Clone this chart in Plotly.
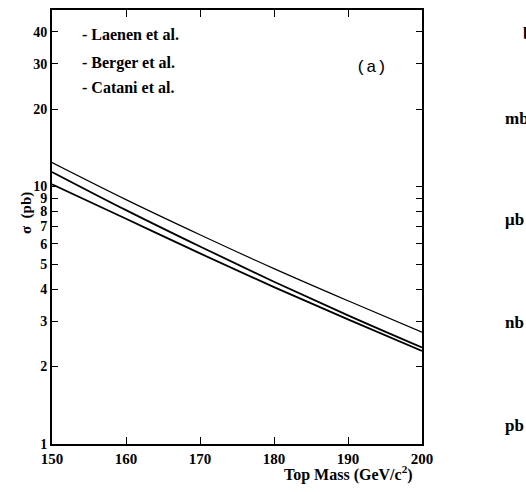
import plotly.graph_objects as go

# Data
mass = [150, 160, 170, 180, 190, 200]
sigma_top = [12.4, 8.9, 6.5, 4.8, 3.6, 2.72]
sigma_mid = [11.4, 8.1, 5.85, 4.27, 3.16, 2.37]
sigma_low = [10.2, 7.5, 5.5, 4.07, 3.05, 2.30]

x_ticks = [150, 160, 170, 180, 190, 200]
y_ticks = [1, 2, 3, 4, 5, 6, 7, 8, 9, 10, 20, 30, 40]
legend_names = ["- Laenen et al.", "- Berger et al.", "- Catani et al."]
unit_labels = ["b", "mb", "\u03bcb", "nb", "pb"]

FONT = "Liberation Serif, Times New Roman, serif"
L, R, T, B = 52, 422, 8, 444


def px(xp):
    return (xp - L) / (R - L)


def py(yp):
    return (B - yp) / (B - T)


fig = go.Figure()
for ys, w in [(sigma_top, 1.2), (sigma_mid, 1.8), (sigma_low, 1.8)]:
    fig.add_trace(go.Scatter(x=mass, y=ys, mode="lines", line=dict(color="black", width=w, shape="spline"),
                             showlegend=False, hoverinfo="skip"))

fig.update_layout(
    width=526, height=492,
    margin=dict(l=L, r=526 - R, t=T, b=492 - B),
    paper_bgcolor="white", plot_bgcolor="white",
    showlegend=False,
    font=dict(family=FONT, color="black"),
)
fig.update_xaxes(
    range=[150, 200], tickvals=x_ticks, ticktext=[f"<b>{v}</b>" for v in x_ticks],
    ticks="inside", ticklen=7, tickwidth=1.3, tickcolor="black",
    showline=True, linecolor="black", linewidth=2, mirror="ticks",
    showgrid=False, zeroline=False, tickfont=dict(size=15, family=FONT),
)
fig.update_yaxes(
    type="log", range=[0, 1.686], tickvals=y_ticks, ticktext=[f"<b>{v}</b>" for v in y_ticks],
    ticks="inside", ticklen=6, tickwidth=1.3, tickcolor="black",
    showline=True, linecolor="black", linewidth=2, mirror="ticks",
    showgrid=False, zeroline=False, tickfont=dict(size=14, family=FONT),
)

ann = []
for name, y in zip(legend_names, [33, 61, 86]):
    ann.append(dict(text=f"<b>{name}</b>", x=px(80), y=py(y), xref="paper", yref="paper",
                    xanchor="left", yanchor="middle", showarrow=False, font=dict(size=16, family=FONT)))
ann.append(dict(text="(a)", x=px(371), y=py(66), xref="paper", yref="paper",
                xanchor="center", yanchor="middle", showarrow=False,
                font=dict(size=17, family="Liberation Mono, Courier New, monospace")))
ann.append(dict(text="<b>Top Mass (GeV/c<sup>2</sup>)</b>", x=px(348), y=py(474), xref="paper", yref="paper",
                xanchor="center", yanchor="middle", showarrow=False, font=dict(size=16, family=FONT)))
ann.append(dict(text="<b>\u03c3  (pb)</b>", x=px(26), y=py(212), xref="paper", yref="paper",
                xanchor="center", yanchor="middle", showarrow=False, textangle=-90, font=dict(size=15, family=FONT)))
for lab, xl, y in zip(unit_labels, [521, 503, 503, 503, 503], [32, 117, 218, 322, 425]):
    ann.append(dict(text=f"<b>{lab}</b>", x=px(xl), y=py(y), xref="paper", yref="paper",
                    xanchor="left", yanchor="middle", showarrow=False, font=dict(size=17, family=FONT)))
fig.update_layout(annotations=ann)

fig.write_html("out.html", config={"displayModeBar": False},
               post_script="document.body.style.margin='0';")
